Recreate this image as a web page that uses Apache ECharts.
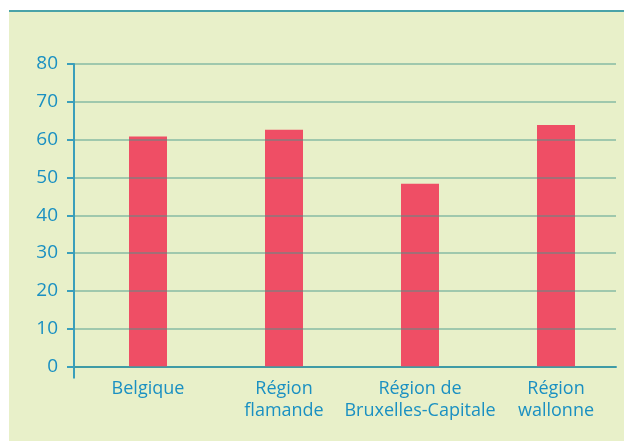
<!DOCTYPE html>
<html><head><meta charset="utf-8">
<script src="https://cdn.jsdelivr.net/npm/echarts@6/dist/echarts.min.js"></script>
<style>html,body{margin:0;padding:0;background:#fff}#c{width:624px;height:441px}</style>
</head><body><div id="c"></div>
<script>
const categories = ['Belgique', 'Région\nflamande', 'Région de\nBruxelles-Capitale', 'Région\nwallonne'];
const values = [60.8, 62.6, 48.3, 63.9];
const yTicks = { min: 0, max: 80, interval: 10 };

const chart = echarts.init(document.getElementById('c'));
const blue = '#1a90c2';
const axisCol = '#3a9fbb';
const font = 'Open Sans';
chart.setOption({
  animation: false,
  graphic: [
    { type: 'rect', shape: { x: 9, y: 10, width: 615, height: 431 }, style: { fill: '#e8f0c9' }, z: -10 },
    { type: 'line', shape: { x1: 9, y1: 11, x2: 624, y2: 11 }, style: { stroke: '#4aa3a8', lineWidth: 2 }, z: -9 }
  ],
  grid: [
    { left: 74, right: 8, top: 64, bottom: 74.5 },
    { left: 80, right: -2, top: 64, bottom: 74.5 }
  ],
  xAxis: [
    { gridIndex: 0, type: 'category', data: ['', ''], boundaryGap: false,
      axisLine: { lineStyle: { color: axisCol, width: 2 } },
      axisTick: { length: 12, lineStyle: { color: axisCol, width: 2 }, interval: function (i) { return i === 0; } },
      axisLabel: { show: false } },
    { gridIndex: 1, type: 'category', data: categories,
      axisLine: { show: false }, axisTick: { show: false },
      axisLabel: { color: blue, fontFamily: font, fontSize: 18, lineHeight: 22, margin: 11, interval: 0 } }
  ],
  yAxis: [
    { gridIndex: 0, type: 'value', min: yTicks.min, max: yTicks.max, interval: yTicks.interval, z: 5,
      axisLine: { show: true, lineStyle: { color: axisCol, width: 2 } },
      axisTick: { show: true, length: 7, lineStyle: { color: axisCol, width: 2 } },
      axisLabel: { color: blue, fontFamily: font, fontSize: 19, margin: 16 },
      splitLine: { lineStyle: { color: 'rgba(70,150,140,0.45)', width: 2 } } },
    { gridIndex: 1, type: 'value', min: yTicks.min, max: yTicks.max, interval: yTicks.interval, show: false, splitLine: { show: false } }
  ],
  series: [
    { type: 'bar', xAxisIndex: 1, yAxisIndex: 1, data: values, barWidth: 38, itemStyle: { color: '#ef4e65' }, z: 2 }
  ]
});
</script></body></html>
